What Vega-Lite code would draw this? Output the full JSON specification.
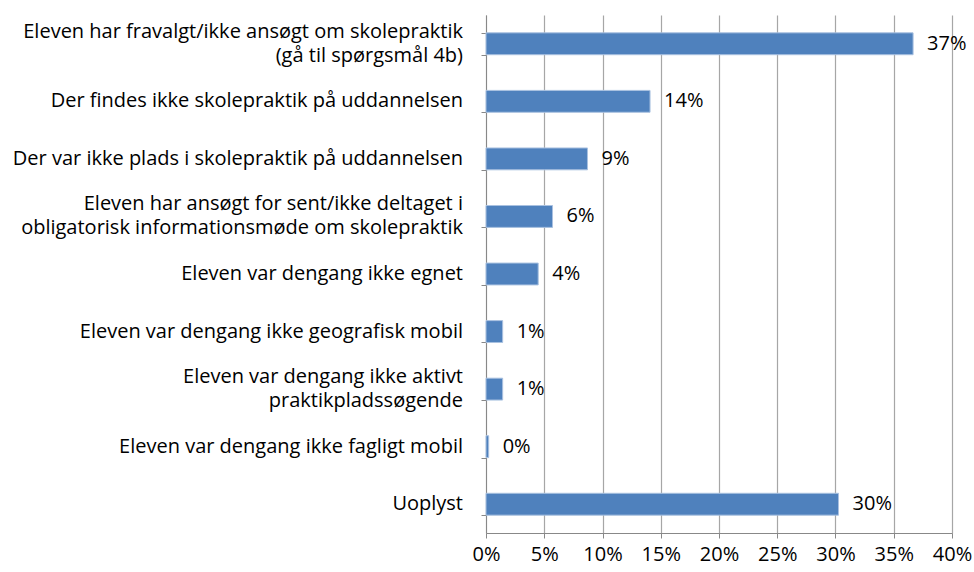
{
  "$schema": "https://vega.github.io/schema/vega-lite/v6.json",
  "autosize": "none",
  "width": 466,
  "height": 518,
  "padding": {"left": 486, "top": 15, "right": 22, "bottom": 39},
  "background": "white",
  "config": {
    "view": {"stroke": null},
    "font": "Open Sans",
    "axis": {"labelFont": "Open Sans", "labelFontSize": 20, "labelColor": "#000000", "domainColor": "#888888", "tickColor": "#888888", "gridColor": "#a6a6a6", "gridWidth": 1.2}
  },
  "data": {
    "values": [
      {"category": "Eleven har fravalgt/ikke ansøgt om skolepraktik|(gå til spørgsmål 4b)", "value": 0.3666},
      {"category": "Der findes ikke skolepraktik på uddannelsen", "value": 0.1408},
      {"category": "Der var ikke plads i skolepraktik på uddannelsen", "value": 0.0871},
      {"category": "Eleven har ansøgt for sent/ikke deltaget i|obligatorisk informationsmøde om skolepraktik", "value": 0.0571},
      {"category": "Eleven var dengang ikke egnet", "value": 0.0448},
      {"category": "Eleven var dengang ikke geografisk mobil", "value": 0.0143},
      {"category": "Eleven var dengang ikke aktivt|praktikpladssøgende", "value": 0.0143},
      {"category": "Eleven var dengang ikke fagligt mobil", "value": 0.0023},
      {"category": "Uoplyst", "value": 0.3026}
    ]
  },
  "encoding": {
    "y": {
      "field": "category",
      "type": "nominal",
      "sort": null,
      "title": null,
      "scale": {"paddingInner": 0.62, "paddingOuter": 0.31},
      "axis": {
        "labels": false,
        "tickBand": "extent",
        "tickSize": 5,
        "grid": false
      }
    },
    "x": {
      "field": "value",
      "type": "quantitative",
      "title": null,
      "scale": {"domain": [0, 0.4], "nice": false},
      "axis": {
        "values": [0, 0.05, 0.1, 0.15, 0.2, 0.25, 0.3, 0.35, 0.4],
        "format": ".0%",
        "grid": true,
        "tickSize": 5,
        "labelPadding": 6,
        "labelFlush": false,
        "labelOverlap": false,
        "domain": true
      }
    }
  },
  "layer": [
    {
      "mark": {"type": "bar", "color": "#4f81bd", "stroke": "#a9c1e0", "strokeWidth": 1}
    },
    {
      "mark": {"type": "text", "align": "left", "baseline": "middle", "dx": 14, "fontSize": 20, "font": "Open Sans", "color": "#000000"},
      "encoding": {
        "text": {"field": "value", "type": "quantitative", "format": ".0%"}
      }
    },
    {
      "transform": [{"filter": "indexof(datum.category, '|') < 0"}],
      "mark": {"type": "text", "align": "right", "baseline": "middle", "dx": -23, "fontSize": 20, "font": "Open Sans", "color": "#000000"},
      "encoding": {
        "x": {"datum": 0, "type": "quantitative"},
        "text": {"field": "category", "type": "nominal"}
      }
    },
    {
      "transform": [{"filter": "indexof(datum.category, '|') >= 0"}],
      "mark": {"type": "text", "align": "right", "baseline": "line-bottom", "lineBreak": "|", "lineHeight": 24, "dx": -23, "fontSize": 20, "font": "Open Sans", "color": "#000000"},
      "encoding": {
        "x": {"datum": 0, "type": "quantitative"},
        "text": {"field": "category", "type": "nominal"}
      }
    }
  ]
}
